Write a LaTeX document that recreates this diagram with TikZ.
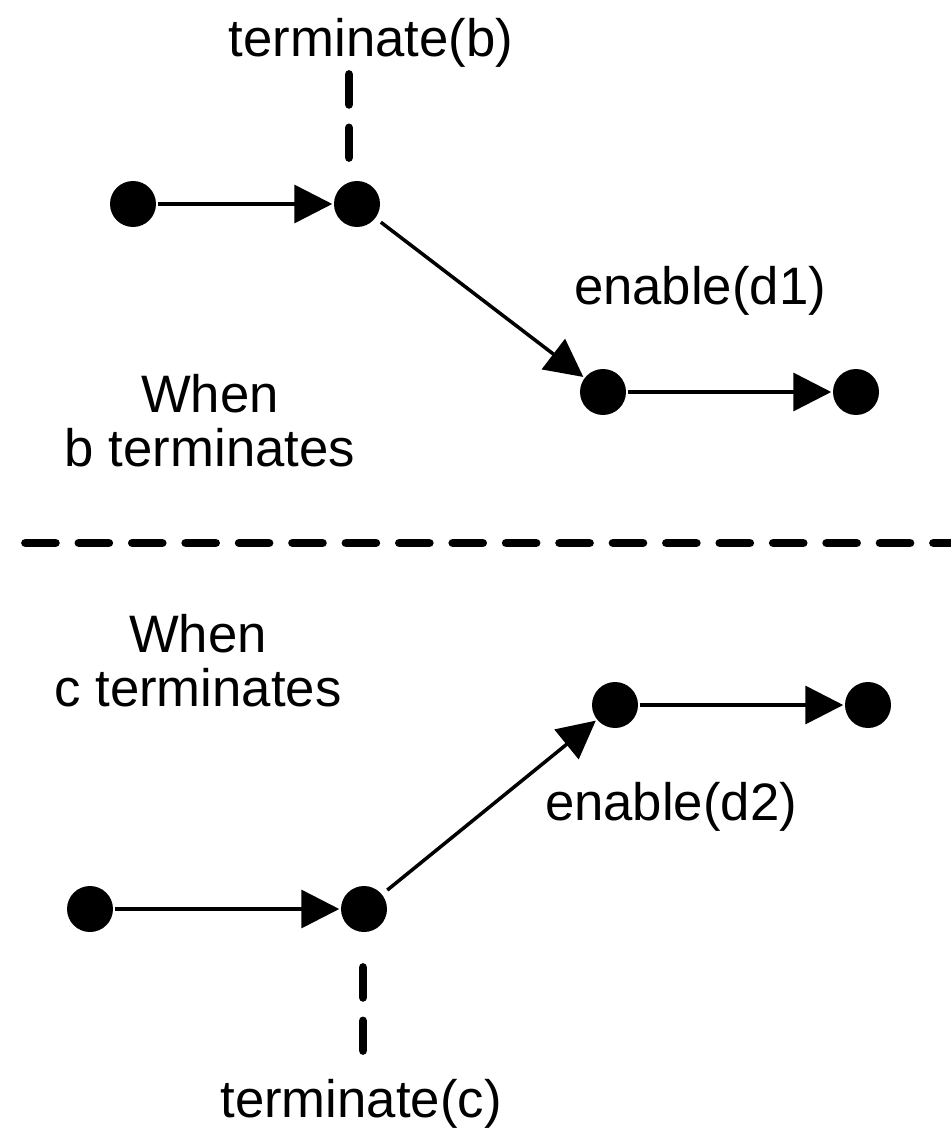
\documentclass[tikz,border=0pt]{standalone}
\usepackage{fontspec}
\setmainfont{Liberation Sans}
\usetikzlibrary{arrows.meta, positioning}

\begin{document}
\begin{tikzpicture}[x=0.02cm, y=-0.02cm, >={Triangle[length=21.5pt, width=21.5pt]}, line width=2pt]
        \tikzstyle{event}=[fill=black, circle, inner sep=0pt, minimum size=0.92cm];
        \tikzstyle{lbl}=[font=\fontsize{30}{30.7}\selectfont, inner sep=0pt];
        \tikzstyle{term}=[line width=5pt, line cap=round, dash pattern=on 17pt off 13.4pt];
        \useasboundingbox (0,0) rectangle (950,1131);

        % upper case: b terminates
        \node[event] (a) at (133,204) {};
        \node[event] (b) at (357,204) {};
        \node[event] (c) at (603,392) {};
        \node[event] (d) at (856,392) {};
        \node[lbl, anchor=base] (termb) at (371,57) {terminate(b)};
        \node[lbl, anchor=base] (enad1) at (700,305) {enable(d1)};
        \node[lbl, align=center] (whenb) at (210,421) {When\\b terminates};
        \coordinate (tb1) at (349,74.5);
        \coordinate (tb2) at (349,157.5);

        % lower case: c terminates
        \node[event] (g) at (90,909) {};
        \node[event] (h) at (364,909) {};
        \node[event] (e) at (615,705) {};
        \node[event] (f) at (868,705) {};
        \node[lbl, align=center] (whenc) at (198,661) {When\\c terminates};
        \node[lbl, anchor=base] (enad2) at (671,820) {enable(d2)};
        \node[lbl, anchor=base] (termc) at (361,1117) {terminate(c)};
        \coordinate (tc1) at (363,967.5);
        \coordinate (tc2) at (363,1050.5);

        \coordinate (sep1) at (25.5,543);
        \coordinate (sep2) at (975,543);

        \path[->]
        (a) edge (b)
        (b) edge[shorten <=3pt] (c)
        (c) edge (d)
        (g) edge (h)
        (h) edge[shorten <=3pt] (e)
        (e) edge (f);

        \draw[term] (tb1) -- (tb2);
        \draw[term] (tc1) -- (tc2);
        \draw[term] (sep1) -- (sep2);
      \end{tikzpicture}
\end{document}
